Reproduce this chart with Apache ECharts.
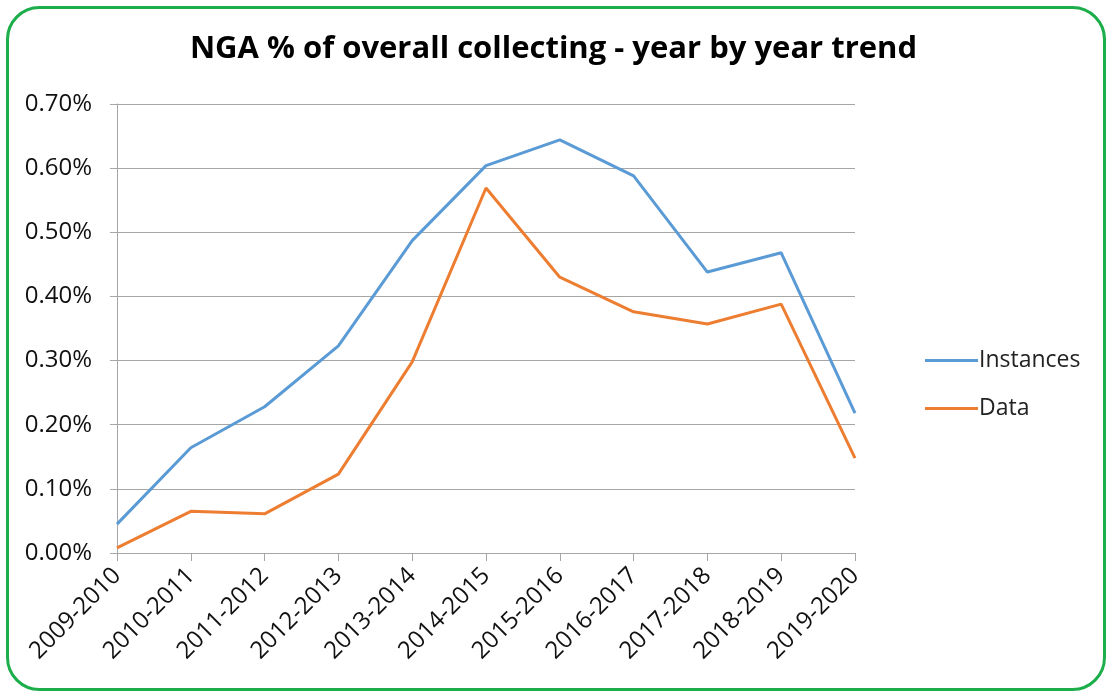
<!DOCTYPE html>
<html>
<head>
<meta charset="utf-8">
<script src="https://cdn.jsdelivr.net/npm/echarts@6/dist/echarts.min.js"></script>
<style>html,body{margin:0;padding:0;background:#fff;}#c{width:1107px;height:692px;}</style>
</head>
<body>
<div id="c"></div>
<script>
const categories = ['2009-2010','2010-2011','2011-2012','2012-2013','2013-2014','2014-2015','2015-2016','2016-2017','2017-2018','2018-2019','2019-2020'];
const instances = [0.045, 0.164, 0.228, 0.323, 0.487, 0.604, 0.644, 0.588, 0.438, 0.468, 0.218];
const dataSeries = [0.008, 0.065, 0.061, 0.123, 0.298, 0.569, 0.430, 0.376, 0.357, 0.388, 0.148];
const titleText = 'NGA % of overall collecting - year by year trend';
const seriesNames = ['Instances', 'Data'];

const chart = echarts.init(document.getElementById('c'), null, {renderer: 'canvas'});
const font = '"Open Sans", "Liberation Sans", sans-serif';
chart.setOption({
  animation: false,
  graphic: [{
    type: 'rect', left: 5, top: 5,
    shape: {width: 1097, height: 682, r: 32},
    style: {fill: 'none', stroke: '#1BAE4B', lineWidth: 3}
  }],
  title: {
    text: titleText, left: 'center', top: 29,
    textStyle: {fontFamily: font, fontSize: 31, fontWeight: 'bold', color: '#000'}
  },
  legend: {
    orient: 'vertical', left: 920, top: 344, itemGap: 25,
    itemWidth: 53, itemHeight: 10,
    textStyle: {fontFamily: font, fontSize: 23, color: '#222', padding: [0,0,0,-4]},
    data: [
      {name: seriesNames[0], icon: 'path://M0,4 L53,4 L53,7 L0,7 Z'},
      {name: seriesNames[1], icon: 'path://M0,4 L53,4 L53,7 L0,7 Z'}
    ]
  },
  grid: {left: 117, right: 252, top: 104, bottom: 139, containLabel: false},
  xAxis: {
    type: 'category', data: categories, boundaryGap: false,
    axisLine: {lineStyle: {color: '#A6A6A6', width: 1}},
    axisTick: {show: true, length: 8, lineStyle: {color: '#A6A6A6'}},
    axisLabel: {rotate: 45, fontFamily: font, fontSize: 24, color: '#111', margin: 19}
  },
  yAxis: {
    type: 'value', min: 0, max: 0.7, interval: 0.1,
    axisLine: {show: true, lineStyle: {color: '#A6A6A6', width: 1}},
    axisTick: {show: true, length: 7, lineStyle: {color: '#A6A6A6'}},
    splitLine: {lineStyle: {color: '#A6A6A6', width: 1}},
    axisLabel: {fontFamily: font, fontSize: 24, color: '#111', margin: 25,
      formatter: v => v.toFixed(2) + '%'}
  },
  series: [
    {name: seriesNames[0], type: 'line', data: instances, symbol: 'none',
     lineStyle: {width: 3, color: '#5B9BD5'}, itemStyle: {color: '#5B9BD5'}},
    {name: seriesNames[1], type: 'line', data: dataSeries, symbol: 'none',
     lineStyle: {width: 3, color: '#ED7D31'}, itemStyle: {color: '#ED7D31'}}
  ]
});
</script>
</body>
</html>
